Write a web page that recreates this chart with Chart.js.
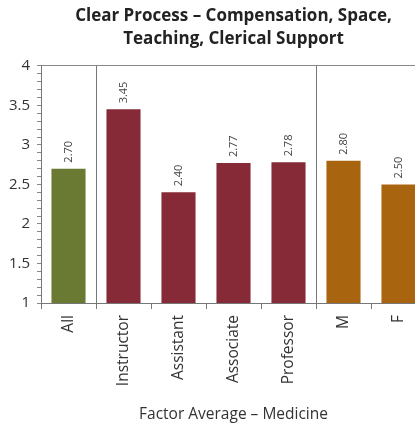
<!DOCTYPE html>
<html>
<head>
<meta charset="utf-8">
<script src="https://cdn.jsdelivr.net/npm/chart.js@4.4.1/dist/chart.umd.min.js"></script>
<style>
html,body{margin:0;padding:0;background:#fff;overflow:hidden;}
#wrap{width:430px;height:429px;}
</style>
</head>
<body>
<div id="wrap"><canvas id="c" width="430" height="429"></canvas></div>
<script>
const categories = ['All','Instructor','Assistant','Associate','Professor','M','F'];
const values = [2.70, 3.45, 2.40, 2.77, 2.78, 2.80, 2.50];
const valueLabels = ['2.70','3.45','2.40','2.77','2.78','2.80','2.50'];
const groups = ['all','rank','rank','rank','rank','gender','gender'];
const groupColors = {all:'#6B7A33', rank:'#862A37', gender:'#A9640F'};
const titleLines = ['Clear Process \u2013 Compensation, Space,','Teaching, Clerical Support'];
const xTitle = 'Factor Average \u2013 Medicine';
const separatorIndexes = [1,5];

const FONT = "'Open Sans', 'DejaVu Sans', sans-serif";

const valueLabelPlugin = {
  id:'valueLabels',
  afterDatasetsDraw(chart){
    const ctx = chart.ctx;
    const meta = chart.getDatasetMeta(0);
    ctx.save();
    ctx.font = '11px ' + FONT;
    ctx.fillStyle = '#444';
    ctx.textAlign = 'left';
    ctx.textBaseline = 'middle';
    meta.data.forEach((bar,i)=>{
      ctx.save();
      ctx.translate(bar.x, bar.y - 6);
      ctx.rotate(-Math.PI/2);
      ctx.fillText(valueLabels[i], 0, 0);
      ctx.restore();
    });
    ctx.restore();
  }
};

new Chart(document.getElementById('c'), {
  type:'bar',
  data:{
    labels:categories,
    datasets:[{
      data:values,
      backgroundColor:groups.map(g=>groupColors[g]),
      borderWidth:0,
      categoryPercentage:1,
      barPercentage:0.62
    }]
  },
  options:{
    responsive:false,
    animation:false,
    layout:{padding:{left:0,right:4,top:0,bottom:0}},
    plugins:{
      legend:{display:false},
      tooltip:{enabled:false},
      title:{
        display:true,
        text:titleLines,
        fullSize:false,
        color:'#222',
        font:{family:FONT,size:17,weight:'bold',lineHeight:1.35},
        padding:{top:5,bottom:15}
      }
    },
    scales:{
      y:{
        min:1,max:4,
        afterFit(s){ s.width = 41; },
        border:{display:true,color:'#777',width:1},
        grid:{
          drawOnChartArea:true,
          color:(c)=> (c.tick && Math.abs(c.tick.value-4)<1e-6) ? '#888' : 'rgba(0,0,0,0)',
          tickColor:'#888',
          tickLength:4,
          lineWidth:1
        },
        ticks:{
          stepSize:0.1,
          autoSkip:false,
          padding:7,
          color:'#333',
          font:{family:FONT,size:15},
          callback:(v)=>{
            const r = Math.round(v*10)/10;
            return (Math.abs(r*2 - Math.round(r*2))<1e-6) ? String(r) : '';
          }
        }
      },
      x:{
        afterFit(s){ s.height = 126; },
        border:{display:true,color:'#777',width:1},
        grid:{
          offset:true,
          drawOnChartArea:true,
          color:(c)=> separatorIndexes.includes(c.index) ? '#777' : 'rgba(0,0,0,0)',
          tickColor:'#777',
          tickLength:6
        },
        ticks:{
          minRotation:90,maxRotation:90,
          autoSkip:false,
          padding:6,
          color:'#333',
          font:{family:FONT,size:15.5}
        },
        title:{
          display:true,
          text:xTitle,
          color:'#333',
          font:{family:FONT,size:15.5},
          padding:{top:0,bottom:5}
        }
      }
    }
  },
  plugins:[valueLabelPlugin]
});
</script>
</body>
</html>
